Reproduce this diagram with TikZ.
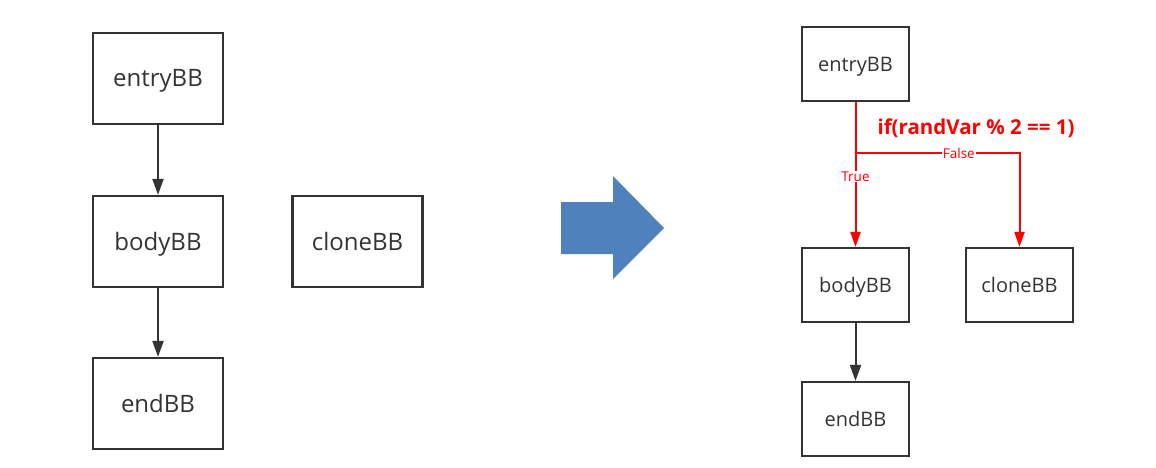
\documentclass[tikz,border=0pt]{standalone}
\usepackage{fontspec}
\setmainfont{Open Sans}
\usetikzlibrary{arrows.meta}
\definecolor{boxline}{HTML}{333333}
\definecolor{bluearrow}{HTML}{4F81BD}
\definecolor{redline}{HTML}{FF0000}
\begin{document}
\begin{tikzpicture}[x=1pt,y=-1pt,
  bigbox/.style={draw=boxline,line width=2.2pt,minimum width=130pt,minimum height=91pt,inner sep=0pt,text height=17pt,text depth=0pt,font=\fontsize{24}{27}\selectfont,text=boxline},
  smallbox/.style={draw=boxline,line width=2.2pt,minimum width=107pt,minimum height=74pt,inner sep=0pt,text height=14.3pt,text depth=0pt,font=\fontsize{20}{23}\selectfont,text=boxline},
  blackarrow/.style={draw=boxline,line width=2pt,-{Triangle[width=11pt,length=16pt]}},
  redarrow/.style={draw=redline,line width=2pt,-{Triangle[width=10pt,length=15pt]}},
  redlabel/.style={fill=white,text=redline,inner sep=1pt,font=\fontsize{13.5}{15}\selectfont}
]
\useasboundingbox (0,0) rectangle (1156,468);
% left diagram
\node[bigbox] (lentry) at (158,78.5) {entryBB};
\node[bigbox] (lbody) at (158,241.5) {bodyBB};
\node[bigbox] (lend) at (158,403.5) {endBB};
\node[bigbox] (lclone) at (357.5,241.5) {cloneBB};
\draw[blackarrow] (lentry) -- (lbody);
\draw[blackarrow] (lbody) -- (lend);
% big blue arrow
\fill[bluearrow] (561,202) -- (613,202) -- (613,176) -- (664,228) -- (613,279) -- (613,254) -- (561,254) -- cycle;
% right diagram
\node[smallbox] (rentry) at (855.5,64) {entryBB};
\node[smallbox] (rbody) at (855.5,285) {bodyBB};
\node[smallbox] (rclone) at (1019.5,285) {cloneBB};
\node[smallbox] (rend) at (855.5,419) {endBB};
\coordinate (split) at (855.5,153);
\coordinate (turn) at (1019.5,153);
\draw[redarrow] (rentry.south) -- (split) -- node[redlabel,pos=0.25]{True} (rbody.north);
\draw[redarrow] (split) -- node[redlabel,pos=0.63]{False} (turn) -- (rclone.north);
\node[text=redline,font=\bfseries\fontsize{20.5}{23}\selectfont] (cond) at (976,128) {if(randVar \% 2 == 1)};
\draw[blackarrow] (rbody) -- (rend);
\end{tikzpicture}
\end{document}
